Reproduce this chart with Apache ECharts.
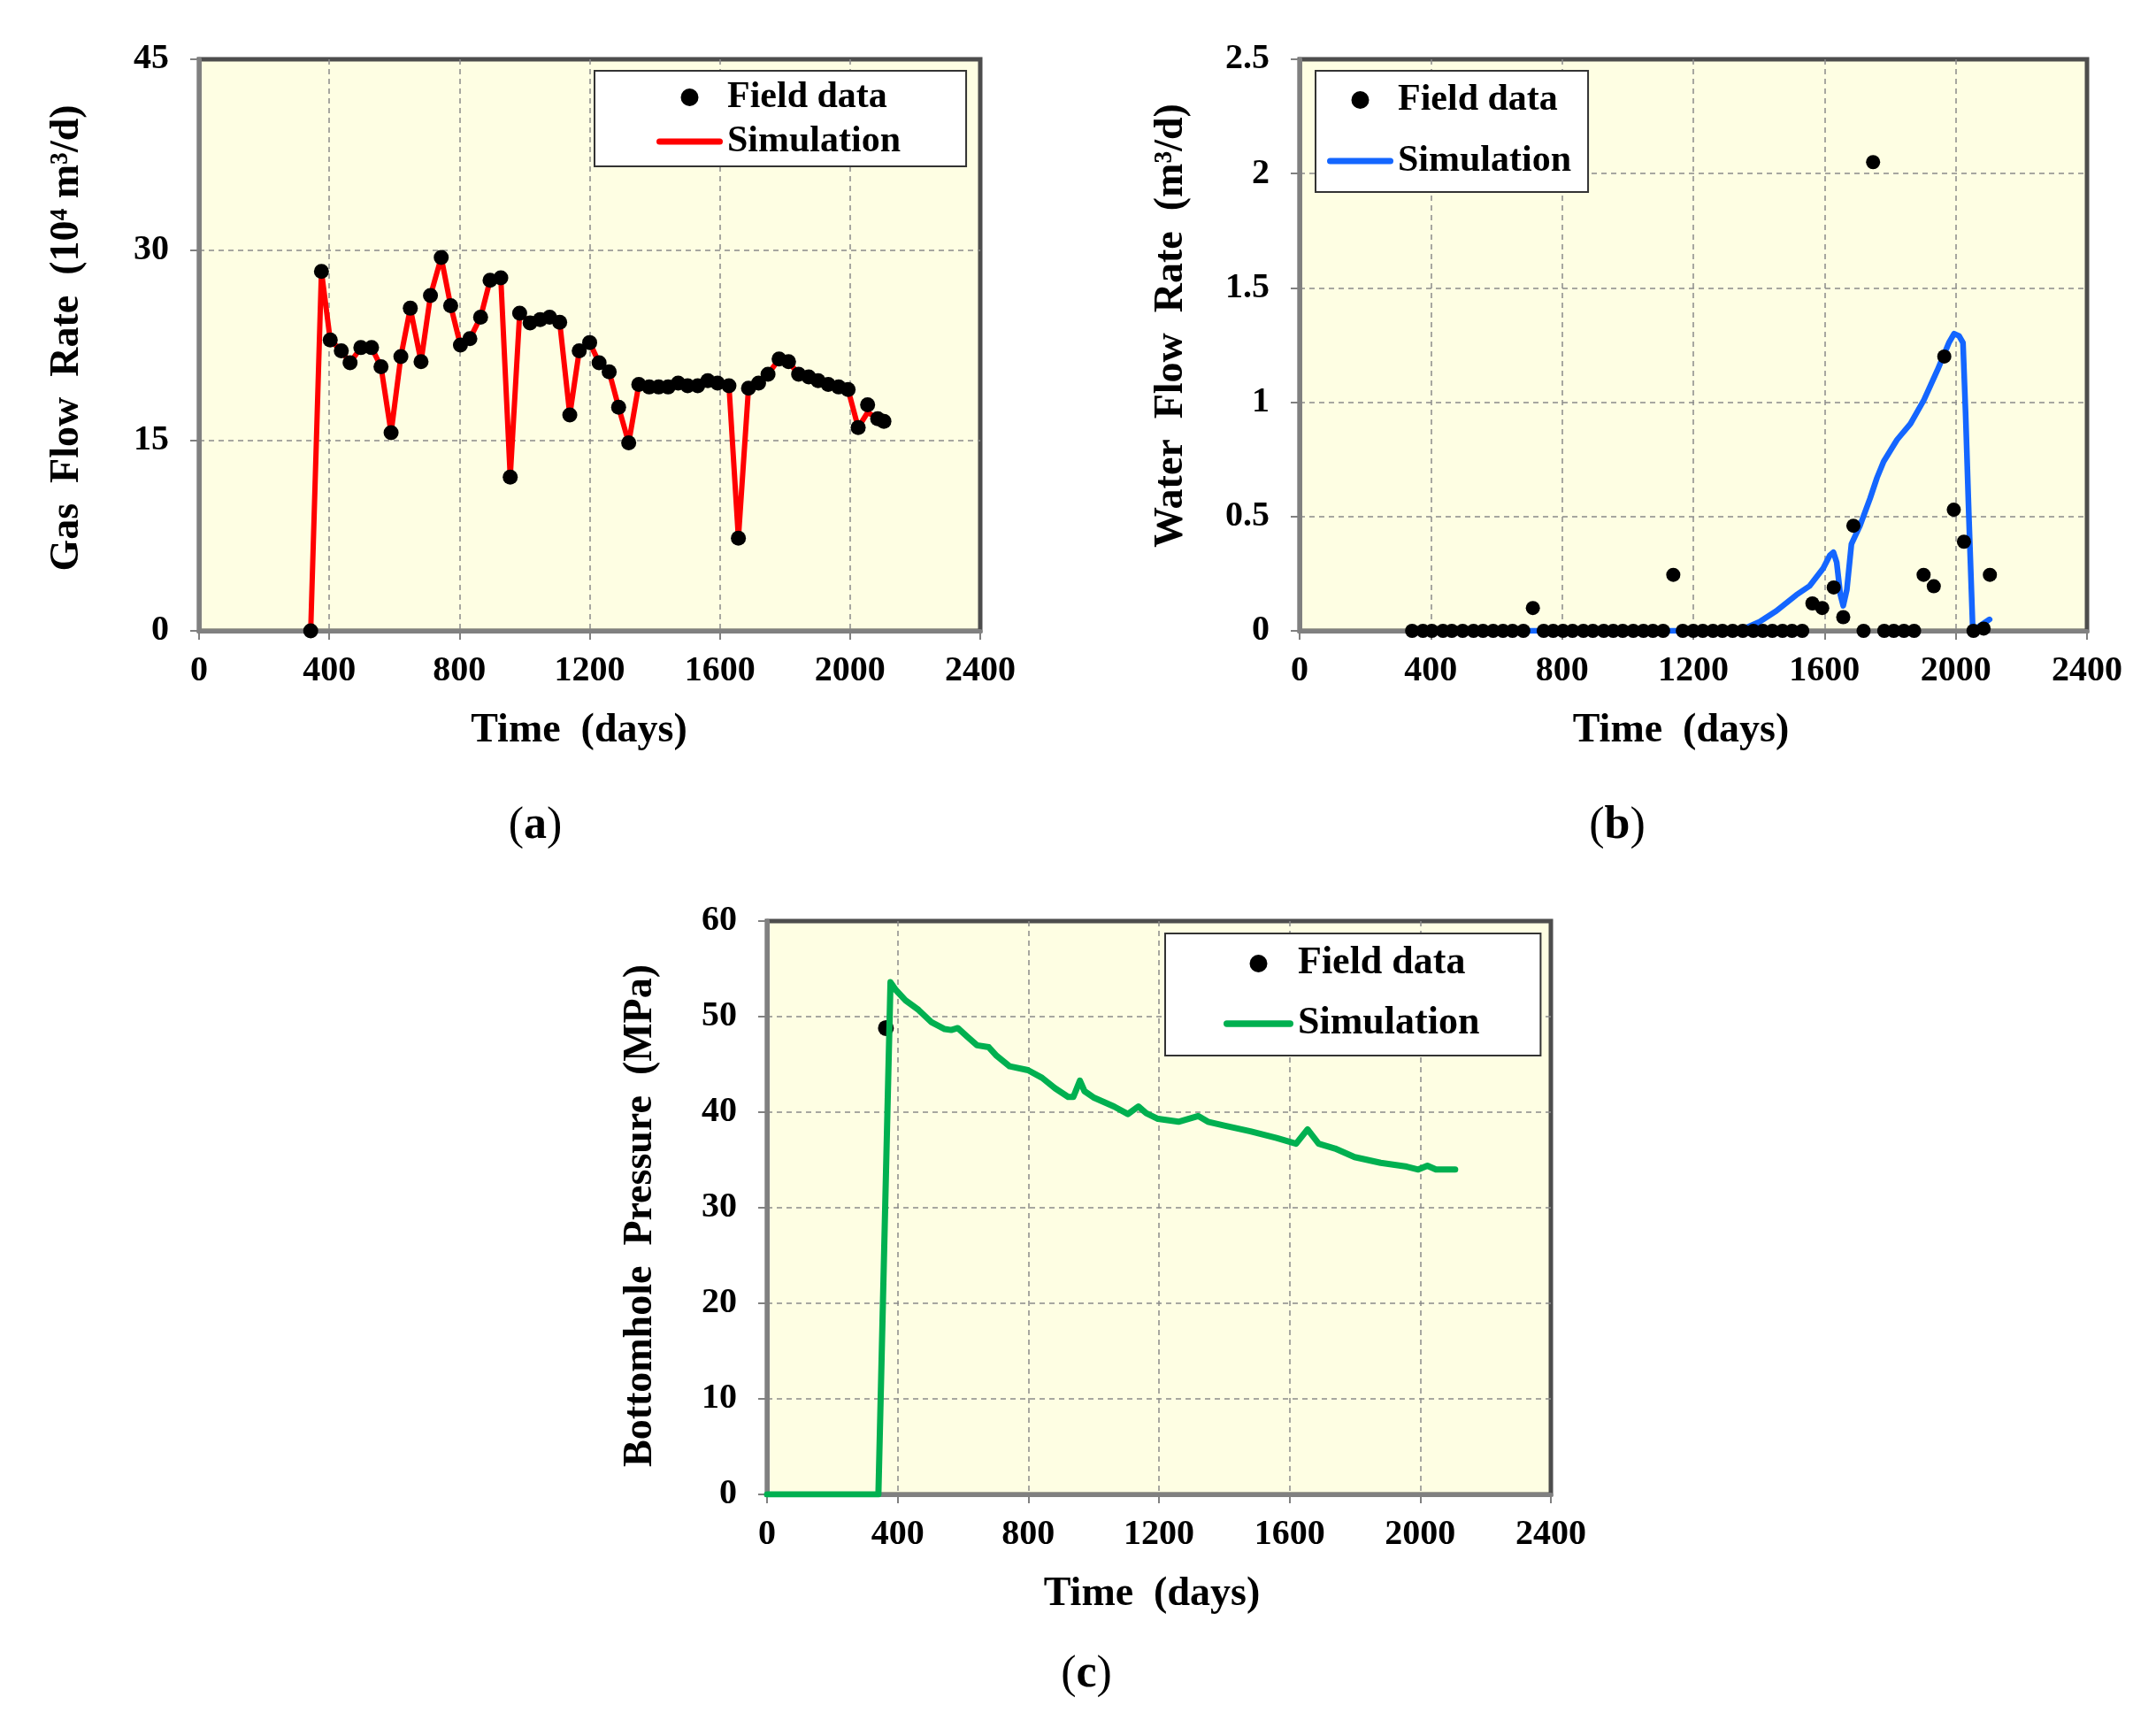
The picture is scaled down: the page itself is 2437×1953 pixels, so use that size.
<!DOCTYPE html>
<html>
<head>
<meta charset="utf-8">
<title>History match</title>
<script src="https://cdn.jsdelivr.net/npm/echarts@6/dist/echarts.min.js"></script>
<style>
html, body { margin: 0; padding: 0; background: #fff; }
#charts { width: 2437px; height: 1953px; }
</style>
</head>
<body>
<div id="charts"></div>
<script>
// field data dates (days), shared by gas and water records
var fieldDays = [343, 376, 403, 437, 464, 497, 530, 559, 590, 620, 649, 682, 711, 744, 773, 803, 832, 865, 894, 927,
    956, 985, 1017, 1048, 1077, 1108, 1139, 1168, 1200, 1229, 1260, 1289, 1320, 1351, 1383, 1412, 1441, 1472, 1501, 1532,
    1563, 1593, 1628, 1657, 1688, 1719, 1748, 1782, 1811, 1842, 1873, 1902, 1933, 1965, 1994, 2025, 2054, 2085, 2104];

// (a) gas rate, 10^4 m3/d
var gasField = [0, 28.3, 22.9, 22.05, 21.1, 22.3, 22.3, 20.8, 15.6, 21.6, 25.4, 21.2, 26.4, 29.4, 25.6, 22.5, 23.0, 24.7, 27.6, 27.8,
    12.1, 25.0, 24.25, 24.5, 24.7, 24.3, 17.0, 22.05, 22.7, 21.1, 20.4, 17.6, 14.8, 19.4, 19.2, 19.2, 19.2, 19.5, 19.3, 19.3,
    19.7, 19.5, 19.3, 7.3, 19.1, 19.5, 20.2, 21.4, 21.2, 20.2, 20.0, 19.7, 19.4, 19.2, 19.0, 16.0, 17.8, 16.7, 16.5];
var gasSim = [0, 28.3, 22.9, 22.05, 21.1, 22.3, 22.3, 20.8, 15.6, 21.6, 25.4, 21.2, 26.4, 29.4, 25.6, 22.5, 23.0, 24.7, 27.6, 27.8,
    12.1, 25.0, 24.25, 24.5, 24.7, 24.3, 17.0, 22.05, 22.7, 21.1, 20.4, 17.6, 14.8, 19.4, 19.2, 19.2, 19.2, 19.5, 19.3, 19.3,
    19.7, 19.5, 19.3, 7.3, 19.1, 19.5, 20.2, 21.4, 21.2, 20.2, 20.0, 19.7, 19.4, 19.2, 19.0, 16.0, 17.2, 16.7, 16.5];

// (b) water rate, m3/d
var waterField = [0, 0, 0, 0, 0, 0, 0, 0, 0, 0, 0, 0, 0.1, 0, 0, 0, 0, 0, 0, 0,
    0, 0, 0, 0, 0, 0, 0.245, 0, 0, 0, 0, 0, 0, 0, 0, 0, 0, 0, 0, 0,
    0.12, 0.1, 0.19, 0.06, 0.46, 0, 2.05, 0, 0, 0, 0, 0.245, 0.195, 1.2, 0.53, 0.39, 0, 0.01, 0.245];
var waterSimDays = [343, 1340, 1402, 1453, 1514, 1555, 1596, 1616, 1627, 1637, 1648, 1657, 1668, 1682, 1708, 1739, 1760, 1780,
    1821, 1862, 1903, 1944, 1979, 1995, 2010, 2022, 2030, 2040, 2052, 2067, 2103];
var waterSim = [0, 0, 0.04, 0.087, 0.157, 0.197, 0.274, 0.33, 0.344, 0.3, 0.16, 0.11, 0.18, 0.38, 0.46, 0.58, 0.67, 0.74,
    0.836, 0.906, 1.01, 1.14, 1.26, 1.3, 1.29, 1.26, 0.95, 0.5, 0, 0.016, 0.05];

// (c) bottomhole pressure, MPa
var bhpFieldDays = [364];
var bhpField = [48.8];
var bhpSimDays = [0, 341, 378, 394, 424, 464, 504, 544, 564, 584, 613, 643, 679, 703, 743, 799, 842, 882, 922, 938,
    958, 972, 1002, 1062, 1105, 1137, 1161, 1197, 1260, 1320, 1350, 1400, 1480, 1560, 1620, 1655, 1689, 1739, 1799, 1879,
    1959, 1994, 2022, 2048, 2107];
var bhpSim = [0, 0, 53.6, 52.8, 51.7, 50.7, 49.4, 48.7, 48.6, 48.8, 47.9, 47.0, 46.8, 45.9, 44.8, 44.4, 43.6, 42.5, 41.6, 41.6,
    43.3, 42.2, 41.5, 40.6, 39.8, 40.6, 39.9, 39.3, 39.0, 39.6, 39.0, 38.6, 38.0, 37.3, 36.7, 38.2, 36.7, 36.2, 35.3, 34.7,
    34.3, 34.0, 34.4, 34.0, 34.0];

// axis ranges [min, max, interval]
var timeAxis = [0, 2400, 400];
var gasAxis = [0, 45, 15];
var waterAxis = [0, 2.5, 0.5];
var bhpAxis = [0, 60, 10];

function pairs(xs, ys) {
    return xs.map(function (x, i) { return [x, ys[i]]; });
}

var serif = 'Liberation Serif';
var barIcon = 'path://M3.5,0 L71.5,0 A3.5,3.5 0 0 1 71.5,7 L3.5,7 A3.5,3.5 0 0 1 3.5,0 Z';

function plainNum(v) { return String(v); }

function xAxisOf(gridIndex, shiftPad) {
    return {
        type: 'value', gridIndex: gridIndex,
        min: timeAxis[0], max: timeAxis[1], interval: timeAxis[2],
        name: 'Time  (days)', nameLocation: 'middle', nameGap: 90,
        nameTextStyle: { fontFamily: serif, fontWeight: 'bold', fontSize: 46, color: '#000', padding: [0, shiftPad, 0, 0] },
        axisLine: { show: true, onZero: false, lineStyle: { color: '#808080', width: 5 } },
        axisTick: { show: true, inside: false, length: 10, lineStyle: { color: '#808080', width: 2 } },
        axisLabel: { margin: 26, formatter: plainNum, fontFamily: serif, fontWeight: 'bold', fontSize: 40, color: '#000' },
        splitLine: { show: true, showMinLine: false, showMaxLine: false,
            lineStyle: { color: '#8a8a8a', width: 1.5, type: [6, 5] } }
    };
}

function yAxisOf(gridIndex, range, name, gap, pad) {
    return {
        type: 'value', gridIndex: gridIndex,
        min: range[0], max: range[1], interval: range[2],
        name: name, nameLocation: 'middle', nameGap: gap,
        nameTextStyle: { fontFamily: serif, fontWeight: 'bold', fontSize: 46, color: '#000', padding: pad },
        axisLine: { show: true, onZero: false, lineStyle: { color: '#808080', width: 5 } },
        axisTick: { show: true, inside: false, length: 10, lineStyle: { color: '#808080', width: 2 } },
        axisLabel: { margin: 34, formatter: plainNum, fontFamily: serif, fontWeight: 'bold', fontSize: 40, color: '#000' },
        splitLine: { show: true, showMinLine: false, showMaxLine: false,
            lineStyle: { color: '#8a8a8a', width: 1.5, type: [6, 5] } }
    };
}

function legendOf(tag, left, top, padding, gap, iconW, fontSize) {
    return {
        selectedMode: false,
        orient: 'vertical',
        left: left, top: top,
        padding: padding,
        itemGap: gap,
        itemWidth: iconW, itemHeight: 20,
        symbolKeepAspect: true,
        backgroundColor: '#fff',
        borderColor: '#333', borderWidth: 2, borderRadius: 0,
        data: [{ name: 'Field data|' + tag, icon: 'circle' }, { name: 'Simulation|' + tag, icon: barIcon }],
        formatter: function (name) { return name.split('|')[0]; },
        textStyle: { fontFamily: serif, fontWeight: 'bold', fontSize: fontSize, lineHeight: fontSize, color: '#000' }
    };
}

function caption(letter, x, y) {
    return {
        type: 'text', x: x, y: y,
        style: {
            text: '{p|(}{b|' + letter + '}{p|)}',
            align: 'center', verticalAlign: 'middle',
            rich: {
                p: { fontFamily: serif, fontSize: 52, fill: '#000' },
                b: { fontFamily: serif, fontSize: 52, fontWeight: 'bold', fill: '#000' }
            }
        }
    };
}

var option = {
    backgroundColor: '#fff',
    animation: false,
    grid: [
        { left: 225, top: 67, width: 883, height: 646 },
        { left: 1469, top: 67, width: 890, height: 646 },
        { left: 867, top: 1041, width: 886, height: 648 }
    ].map(function (g) {
        g.show = true;
        g.backgroundColor = '#fefee3';
        g.borderColor = '#4d4d4d';
        g.borderWidth = 5;
        g.outerBoundsMode = 'none';
        return g;
    }),
    xAxis: [xAxisOf(0, 24), xAxisOf(1, 28), xAxisOf(2, 16)],
    yAxis: [
        yAxisOf(0, gasAxis, 'Gas  Flow  Rate  (10\u2074 m\u00b3/d)', 126, [0, 0, 0, 16]),
        yAxisOf(1, waterAxis, 'Water  Flow  Rate  (m\u00b3/d)', 122, [0, 0, 0, 44]),
        yAxisOf(2, bhpAxis, 'Bottomhole  Pressure  (MPa)', 120, [0, 18, 0, 0])
    ],
    legend: [
        legendOf('a', 672, 80, [9, 74, 7, 70], 8, 75, 42),
        legendOf('b', 1487, 80, [12, 19, 14, 13], 27, 75, 42),
        legendOf('c', 1317, 1055, [12, 69, 14, 66], 24, 79, 44)
    ],
    graphic: [
        caption('a', 605, 934),
        caption('b', 1828, 934),
        caption('c', 1228, 1893)
    ],
    series: [
        {
            name: 'Simulation|a', type: 'line', xAxisIndex: 0, yAxisIndex: 0,
            data: pairs(fieldDays, gasSim), symbol: 'none', z: 2,
            lineStyle: { color: '#ff0000', width: 6, cap: 'round', join: 'round' },
            itemStyle: { color: '#ff0000' }
        },
        {
            name: 'Field data|a', type: 'scatter', xAxisIndex: 0, yAxisIndex: 0,
            data: pairs(fieldDays, gasField), symbol: 'circle', symbolSize: 17, z: 3,
            itemStyle: { color: '#000', opacity: 1 }
        },
        {
            name: 'Simulation|b', type: 'line', xAxisIndex: 1, yAxisIndex: 1,
            data: pairs(waterSimDays, waterSim), symbol: 'none', z: 2,
            lineStyle: { color: '#1466ff', width: 6.5, cap: 'round', join: 'round' },
            itemStyle: { color: '#1466ff' }
        },
        {
            name: 'Field data|b', type: 'scatter', xAxisIndex: 1, yAxisIndex: 1,
            data: pairs(fieldDays, waterField), symbol: 'circle', symbolSize: 16, z: 3,
            itemStyle: { color: '#000', opacity: 1 }
        },
        {
            name: 'Field data|c', type: 'scatter', xAxisIndex: 2, yAxisIndex: 2,
            data: pairs(bhpFieldDays, bhpField), symbol: 'circle', symbolSize: 18, z: 2,
            itemStyle: { color: '#000', opacity: 1 }
        },
        {
            name: 'Simulation|c', type: 'line', xAxisIndex: 2, yAxisIndex: 2,
            data: pairs(bhpSimDays, bhpSim), symbol: 'none', z: 3,
            lineStyle: { color: '#00b050', width: 7, cap: 'round', join: 'round' },
            itemStyle: { color: '#00b050' }
        }
    ]
};

var chart = echarts.init(document.getElementById('charts'));
chart.setOption(option);
</script>
</body>
</html>
